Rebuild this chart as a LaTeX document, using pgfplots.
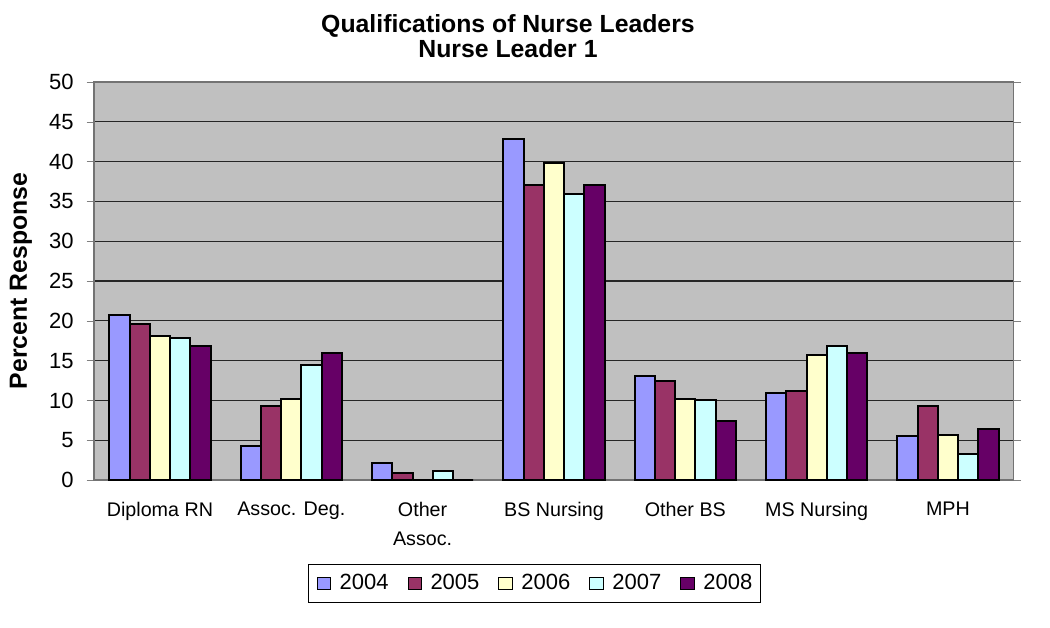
\documentclass[border=0pt]{standalone}
\usepackage{fontspec}
\setmainfont{Liberation Sans}
\usepackage{pgfplots}
\pgfplotsset{compat=1.18}

\definecolor{c04}{HTML}{9999FF}
\definecolor{c05}{HTML}{993366}
\definecolor{c06}{HTML}{FFFFCC}
\definecolor{c07}{HTML}{CCFFFF}
\definecolor{c08}{HTML}{660066}
\definecolor{plotbg}{HTML}{C0C0C0}

\begin{document}
\begin{tikzpicture}
\begin{axis}[
    scale only axis,
    width=459.65pt, height=199.1pt,
    ybar=0pt, bar width=0.154,
    xmin=-0.5, xmax=6.5, ymin=0, ymax=50,
    ytick={0,5,...,50},
    xtick={0,...,6},
    xticklabels={Diploma RN, Assoc. Deg., Other\\Assoc., BS Nursing, Other BS, MS Nursing, MPH},
    xticklabel style={align=center, font=\fontsize{9.85}{14.8}\selectfont, anchor=north, yshift=-3.6pt},
    yticklabel style={font=\fontsize{11}{13}\selectfont, xshift=-3pt},
    /pgf/number format/assume math mode=true,
    major x tick style={draw=none},
    extra x ticks={-0.5,0.5,...,6.5},
    extra x tick labels={},
    extra x tick style={grid=none, major tick style={draw=black!70}},
    tick align=outside,
    major tick length=3.8pt,
    ymajorgrids,
    grid style={black!85, line width=0.6pt},
    axis background/.style={fill=plotbg},
    axis line style={black!55, line width=0.8pt},
    ylabel={\textbf{Percent Response}},
    ylabel style={font=\fontsize{12.4}{14}\selectfont, at={(axis description cs:-0.0797,0.5)}, anchor=center},
    title={Qualifications of Nurse Leaders\\Nurse Leader 1},
    title style={align=center, font=\bfseries\fontsize{12.4}{12.5}\selectfont, inner sep=0pt,
        at={(0.45,1)}, anchor=north, yshift=28.1pt},
    every axis plot/.append style={draw=black, line width=1pt},
    legend columns=5,
    legend style={at={(axis description cs:0.232,-0.211)}, anchor=north west, draw=black, fill=white,
        font=\fontsize{11}{13}\selectfont, inner xsep=4.3pt, inner ysep=4.8pt,
        nodes={inner sep=0pt}, column sep=4.3pt,
        /tikz/every even column/.append style={column sep=9.5pt}},
    legend image code/.code={\draw[#1, line width=0.5pt] (0pt,-2.9pt) rectangle (6.7pt,2.9pt);},
]
\addplot[fill=c04] coordinates {(0,20.7) (1,4.3) (2,2.1) (3,42.8) (4,13.1) (5,10.9) (6,5.5)};
\addlegendentry{2004}
\addplot[fill=c05] coordinates {(0,19.6) (1,9.3) (2,0.9) (3,37.1) (4,12.4) (5,11.2) (6,9.3)};
\addlegendentry{2005}
\addplot[fill=c06] coordinates {(0,18.1) (1,10.2) (2,0) (3,39.8) (4,10.2) (5,15.7) (6,5.7)};
\addlegendentry{2006}
\addplot[fill=c07] coordinates {(0,17.8) (1,14.5) (2,1.1) (3,35.9) (4,10.0) (5,16.9) (6,3.3)};
\addlegendentry{2007}
\addplot[fill=c08] coordinates {(0,16.9) (1,16.0) (2,0) (3,37.1) (4,7.4) (5,15.9) (6,6.4)};
\addlegendentry{2008}
\end{axis}
\pgfresetboundingbox
\path ([xshift=-47.15pt,yshift=-73.45pt]current axis.south west) rectangle ([xshift=18.2pt,yshift=40.95pt]current axis.north east);
\end{tikzpicture}
\end{document}
